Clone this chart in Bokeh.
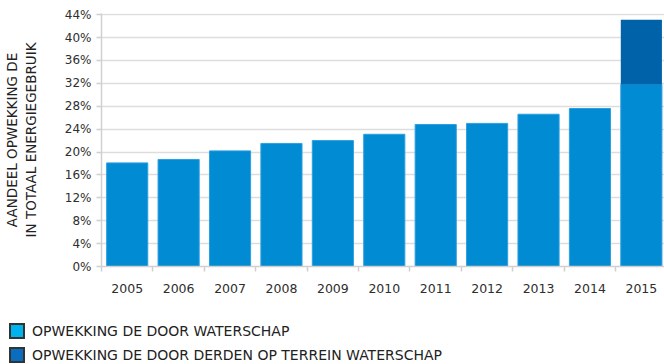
from bokeh.plotting import figure
from bokeh.models import (ColumnDataSource, Range1d, FixedTicker, PrintfTickFormatter, Div)
from bokeh.layouts import column
from bokeh.embed import file_html
from bokeh.resources import INLINE

years = ["2005", "2006", "2007", "2008", "2009", "2010", "2011", "2012", "2013", "2014", "2015"]
own = [18.1, 18.7, 20.2, 21.5, 22.0, 23.1, 24.8, 25.0, 26.6, 27.6, 31.8]
third = [0, 0, 0, 0, 0, 0, 0, 0, 0, 0, 11.3]
y_ticks = [0, 4, 8, 12, 16, 20, 24, 28, 32, 36, 40, 44]
series_names = ["OPWEKKING DE DOOR WATERSCHAP", "OPWEKKING DE DOOR DERDEN OP TERREIN WATERSCHAP"]
y_title = "AANDEEL OPWEKKING DE\nIN TOTAAL ENERGIEGEBRUIK"

FONT = "DejaVu Sans"
TXT = "#2e2e2e"
bar_colors = ["#008bd3", "#0062a8"]
legend_colors = ["#00b2ee", "#0a6ec0"]

xs = list(range(len(years)))
src = ColumnDataSource(dict(x=xs, own=own, third=third))

p = figure(width=664, height=300, output_backend="svg", toolbar_location=None,
           x_range=Range1d(-0.5, len(years) - 0.55), y_range=Range1d(0, 44.2),
           min_border_left=101, min_border_right=0, min_border_top=13, min_border_bottom=34)
p.outline_line_color = None

p.vbar_stack(["own", "third"], x="x", width=0.8, source=src, color=bar_colors,
             line_color=["#2e9fe0", None], line_width=1)

# x axis
p.xaxis.ticker = FixedTicker(ticks=xs, minor_ticks=[i - 0.5 for i in range(len(years) + 1)])
p.xaxis.major_label_overrides = {i: y for i, y in enumerate(years)}
p.xaxis.major_tick_out = 0
p.xaxis.major_tick_in = 0
p.xaxis.minor_tick_out = 5
p.xaxis.minor_tick_in = 0
p.xaxis.minor_tick_line_color = "#cfcfcf"
p.xaxis.minor_tick_line_width = 1.5
p.xaxis.axis_line_color = "#d0d0d0"
p.xaxis.axis_line_width = 1.5
p.xaxis.major_label_standoff = 12
p.xaxis.major_label_text_font = FONT
p.xaxis.major_label_text_font_size = "12.5px"
p.xaxis.major_label_text_color = TXT
p.xgrid.grid_line_color = None

# y axis
p.yaxis.ticker = FixedTicker(ticks=y_ticks)
p.yaxis.formatter = PrintfTickFormatter(format="%d%%")
p.yaxis.major_tick_out = 5
p.yaxis.major_tick_in = 0
p.yaxis.minor_tick_line_color = None
p.yaxis.major_tick_line_color = "#cfcfcf"
p.yaxis.major_tick_line_width = 1.5
p.yaxis.axis_line_color = "#d0d0d0"
p.yaxis.axis_line_width = 1.5
p.yaxis.major_label_standoff = 5
p.yaxis.major_label_text_font = FONT
p.yaxis.major_label_text_font_size = "12px"
p.yaxis.major_label_text_color = TXT
p.yaxis.axis_label = y_title
p.yaxis.axis_label_text_font = FONT
p.yaxis.axis_label_text_font_size = "13.5px"
p.yaxis.axis_label_text_font_style = "normal"
p.yaxis.axis_label_text_align = "center"
p.yaxis.axis_label_text_color = "#222222"
p.yaxis.axis_label_standoff = 23
p.ygrid.grid_line_color = "#dddddd"
p.ygrid.grid_line_width = 1.5

# legend as HTML below the chart
rows = []
for name, c in zip(series_names, legend_colors):
    rows.append(
        '<div style="display:flex;align-items:center;height:16px;margin-bottom:8px;">'
        f'<span style="display:inline-block;box-sizing:border-box;width:16px;height:16px;'
        f'background:{c};border:2px solid #333;margin-right:7px;flex:none;"></span>'
        f'<span style="font-family:\'{FONT}\';font-size:14px;color:#222;white-space:nowrap;">{name}</span>'
        '</div>'
    )
legend_div = Div(text='<div style="padding:23px 0 0 9px;">' + "".join(rows) + "</div>",
                 width=664, height=64, margin=(0, 0, 0, 0))

layout = column(p, legend_div, spacing=0)
open("out.html", "w").write(file_html(layout, INLINE))
